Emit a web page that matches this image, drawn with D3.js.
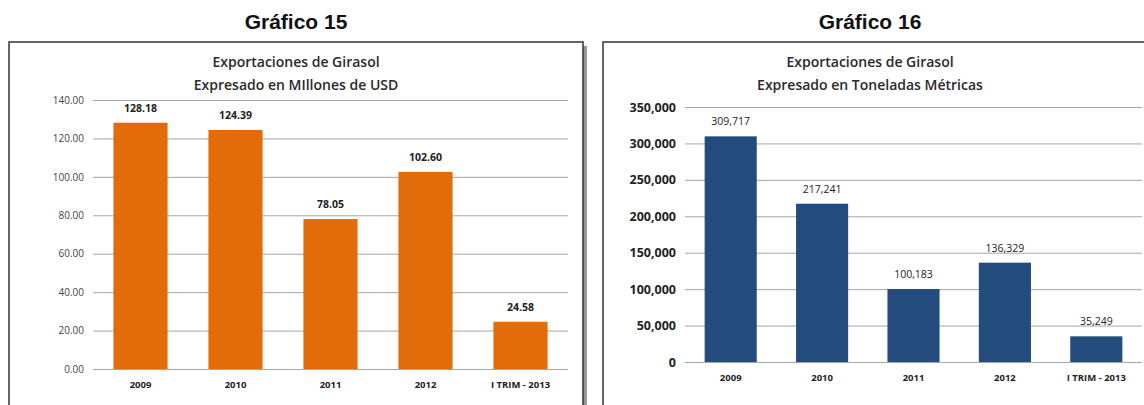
<!DOCTYPE html>
<html>
<head>
<meta charset="utf-8">
<script src="https://cdn.jsdelivr.net/npm/d3@7"></script>
<style>
  body { margin: 0; background: #fff; }
  svg { display: block; }
  text { font-family: "Open Sans", "Liberation Sans", sans-serif; }
</style>
</head>
<body>
<svg id="chart" width="1144" height="405"></svg>
<script>
// data
var categories = ["2009", "2010", "2011", "2012", "I TRIM - 2013"];
var usdValues = [128.18, 124.39, 78.05, 102.60, 24.58];
var tonValues = [309717, 217241, 100183, 136329, 35249];
var usdTicks = [0, 20, 40, 60, 80, 100, 120, 140];
var tonTicks = [0, 50000, 100000, 150000, 200000, 250000, 300000, 350000];

var svg = d3.select("#chart");

function drawPanel(opt) {
  var p = svg.append("g");

  // heading above the box
  p.append("text")
      .attr("x", opt.cx).attr("y", 29)
      .attr("text-anchor", "middle")
      .style("font-family", "'Liberation Sans', Arial, sans-serif")
      .style("font-weight", "bold")
      .style("font-size", "21px")
      .attr("fill", "#111")
      .text(opt.heading);

  // box with a little shadow on the right
  if (opt.shadow) {
    p.append("rect")
        .attr("x", opt.box[0] + 4).attr("y", opt.box[1] + 4)
        .attr("width", opt.box[2]).attr("height", opt.box[3])
        .attr("fill", "#9a9a9a");
  }
  p.append("rect")
      .attr("x", opt.box[0]).attr("y", opt.box[1])
      .attr("width", opt.box[2]).attr("height", opt.box[3])
      .attr("fill", "#fff")
      .attr("stroke", "#333")
      .attr("stroke-width", 1.5);

  // two-line chart title
  opt.title.forEach(function(t, i) {
    p.append("text")
        .attr("x", opt.cx).attr("y", 67 + i * 23)
        .attr("text-anchor", "middle")
        .style("font-size", "14px")
        .style("font-weight", "600")
        .attr("fill", "#2a2a2a")
        .text(t);
  });

  var x = d3.scaleBand()
      .domain(categories)
      .range([opt.plot.left, opt.plot.right])
      .paddingInner(opt.pad)
      .paddingOuter(opt.pad / 2);

  var y = d3.scaleLinear()
      .domain([0, d3.max(opt.ticks)])
      .range([opt.plot.bottom, opt.plot.top]);

  // gridlines + y labels
  var yAxis = p.append("g")
      .attr("transform", "translate(" + opt.plot.left + ",0)")
      .call(d3.axisLeft(y).tickValues(opt.ticks).tickFormat(opt.tickFmt)
        .tickSize(-(opt.plot.right - opt.plot.left)).tickPadding(opt.tickPad));
  yAxis.select(".domain").remove();
  yAxis.selectAll(".tick line").attr("stroke", "#a6a6a6").attr("stroke-width", 1);
  yAxis.selectAll(".tick text")
      .style("font-size", opt.tickSizePx)
      .style("font-weight", opt.tickWeight)
      .attr("fill", opt.tickColor);

  // bars
  p.selectAll(".bar")
    .data(opt.values)
    .enter().append("rect")
      .attr("class", "bar")
      .attr("x", function(d, i) { return x(categories[i]); })
      .attr("width", x.bandwidth())
      .attr("y", function(d) { return y(d); })
      .attr("height", function(d) { return y(0) - y(d); })
      .attr("fill", opt.color);

  // value labels
  p.selectAll(".lbl")
    .data(opt.values)
    .enter().append("text")
      .attr("class", "lbl")
      .attr("x", function(d, i) { return x(categories[i]) + x.bandwidth() / 2; })
      .attr("y", function(d) { return y(d) - 11; })
      .attr("text-anchor", "middle")
      .style("font-size", "10.5px")
      .style("font-weight", opt.labelWeight)
      .attr("fill", "#222")
      .text(opt.labelFmt);

  // x axis labels
  var xAxis = p.append("g")
      .attr("transform", "translate(0," + opt.plot.bottom + ")")
      .call(d3.axisBottom(x).tickSize(0).tickPadding(12));
  xAxis.select(".domain").remove();
  xAxis.selectAll(".tick text")
      .style("font-size", "9.5px")
      .style("font-weight", "bold")
      .attr("fill", "#222");
}

drawPanel({
  heading: "Gráfico 15",
  cx: 296,
  box: [9, 42, 574, 380],
  shadow: true,
  title: ["Exportaciones de Girasol", "Expresado en MIllones de USD"],
  plot: {left: 93, right: 568, top: 100, bottom: 369},
  pad: 0.43,
  ticks: usdTicks,
  tickFmt: d3.format(".2f"),
  tickPad: 9,
  tickSizePx: "10px",
  tickWeight: "normal",
  tickColor: "#444",
  values: usdValues,
  color: "#e36c0a",
  labelWeight: "bold",
  labelFmt: d3.format(".2f")
});

drawPanel({
  heading: "Gráfico 16",
  cx: 870,
  box: [603, 42, 560, 380],
  shadow: false,
  title: ["Exportaciones de Girasol", "Expresado en Toneladas Métricas"],
  plot: {left: 685, right: 1142, top: 107, bottom: 362},
  pad: 0.43,
  ticks: tonTicks,
  tickFmt: d3.format(",d"),
  tickPad: 9,
  tickSizePx: "12.5px",
  tickWeight: "bold",
  tickColor: "#222",
  values: tonValues,
  color: "#234b7e",
  labelWeight: "normal",
  labelFmt: d3.format(",d")
});
</script>
</body>
</html>
